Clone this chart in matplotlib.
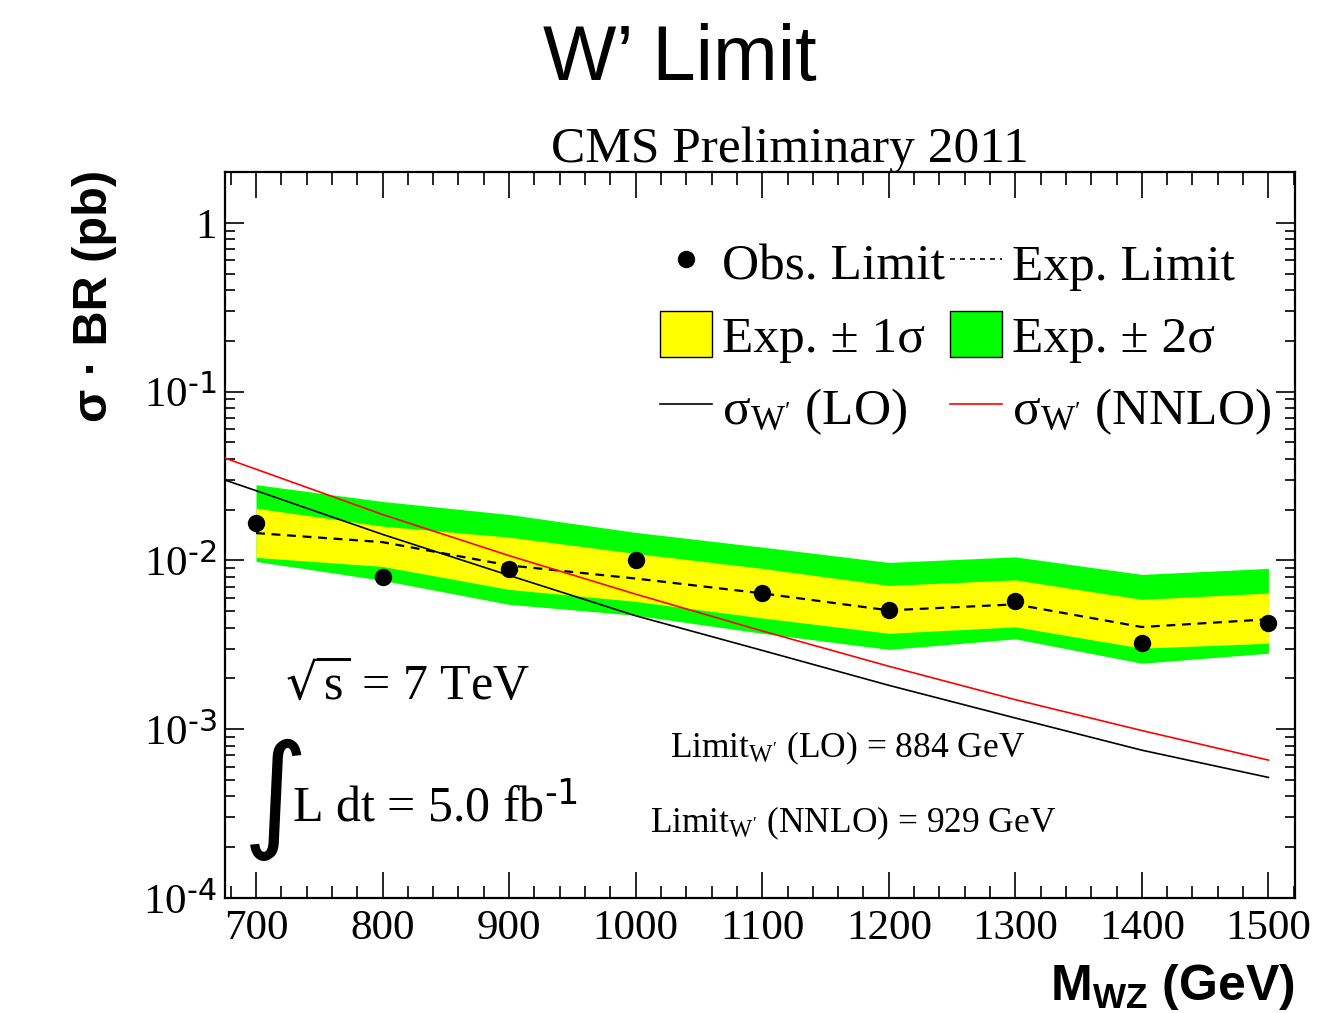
import matplotlib
matplotlib.use('Agg')
import matplotlib.pyplot as plt
import numpy as np
from matplotlib.patches import Patch
from matplotlib.lines import Line2D
from matplotlib.ticker import FixedLocator, MultipleLocator, NullFormatter

# W' mass points (GeV)
mass = [700, 800, 900, 1000, 1100, 1200, 1300, 1400, 1500]
obs = [0.0167, 0.00797, 0.00885, 0.0100, 0.00641, 0.00506, 0.00574, 0.00323, 0.00424]
exp = [0.01452, 0.01283, 0.00934, 0.00781, 0.00638, 0.00506, 0.00549, 0.00403, 0.00448]
exp_1up = [0.0204, 0.01596, 0.01374, 0.01100, 0.00897, 0.00711, 0.00767, 0.00588, 0.00641]
exp_1dn = [0.01042, 0.00921, 0.00673, 0.00572, 0.00456, 0.00370, 0.00404, 0.00302, 0.00323]
exp_2up = [0.0281, 0.02234, 0.01871, 0.01465, 0.01199, 0.00973, 0.01049, 0.00826, 0.00897]
exp_2dn = [0.00986, 0.00762, 0.00549, 0.00473, 0.00370, 0.00297, 0.00343, 0.00246, 0.00282]

# theory cross sections
th_mass = [675, 700, 800, 900, 1000, 1100, 1200, 1300, 1400, 1500]
xs_lo = [0.0300, 0.0259, 0.01426, 0.00815, 0.00470, 0.00293, 0.00182, 0.001165, 0.000751, 0.000518]
xs_nnlo = [0.0405, 0.0347, 0.0187, 0.01067, 0.00631, 0.00382, 0.00236, 0.001496, 0.000982, 0.000656]

serif = 'Liberation Serif'
sans = 'Liberation Sans'
plt.rcParams['font.family'] = [serif, 'DejaVu Serif']
plt.rcParams['mathtext.default'] = 'regular'

W, H = 1319, 1013
fig = plt.figure(figsize=(W / 100, H / 100), dpi=100)
ax = fig.add_axes([225 / W, 1 - 898 / H, (1295 - 225) / W, (898 - 172) / H])

ax.fill_between(mass, exp_2dn, exp_2up, color='#00ff00', lw=0, zorder=1)
ax.fill_between(mass, exp_1dn, exp_1up, color='#ffff00', lw=0, zorder=2)
ax.plot(mass, exp, color='black', ls=(0, (4, 3)), lw=1.6, zorder=3)
ax.plot(th_mass, xs_lo, color='black', lw=1.2, zorder=4)
ax.plot(th_mass, xs_nnlo, color='red', lw=1.2, zorder=4)
ax.plot(mass, obs, 'o', color='black', ms=11.5, zorder=5)

ax.set_yscale('log')
ax.set_xlim(675.5, 1521)
ax.set_ylim(1e-4, 2.0)

# ROOT-like ticks
ax.xaxis.set_major_locator(MultipleLocator(100))
ax.xaxis.set_minor_locator(MultipleLocator(20))
ax.yaxis.set_major_locator(FixedLocator([1e-4, 1e-3, 1e-2, 1e-1, 1]))
minors = [m * 10.0 ** e for e in range(-4, 1) for m in range(2, 10)]
ax.yaxis.set_minor_locator(FixedLocator(minors))
ax.yaxis.set_minor_formatter(NullFormatter())
ax.set_yticklabels(['$10^{\\text{-4}}$', '$10^{\\text{-3}}$', '$10^{\\text{-2}}$',
                    '$10^{\\text{-1}}$', '1'])
ax.tick_params(which='both', direction='in', top=True, right=True, width=1.2)
ax.tick_params(which='major', length=14, labelsize=31)
ax.tick_params(which='minor', length=7)
ax.tick_params(axis='x', which='major', length=19, pad=8)
ax.tick_params(axis='x', which='minor', length=9)
ax.tick_params(axis='y', pad=6)
for s in ax.spines.values():
    s.set_linewidth(1.6)

ax.set_xlabel('M$_{WZ}$ (GeV)', fontfamily=sans, fontweight='bold', fontsize=36, loc='right')
ax.xaxis.set_label_coords(1.0, -0.088)
ax.set_ylabel('σ · BR (pb)', fontfamily=sans, fontweight='bold', fontsize=35, loc='top')
ax.yaxis.set_label_coords(-0.101, 1.003)

fig.text(680 / W, 1 - 59 / H, 'W’ Limit', fontfamily=sans, fontsize=56, ha='center', va='center')
fig.text(790 / W, 1 - 162 / H, 'CMS Preliminary 2011', fontsize=37, ha='center', va='baseline')

handles = [
    Line2D([], [], marker='o', color='black', ls='none', ms=11.5),
    Patch(facecolor='#ffff00', edgecolor='black', lw=1),
    Line2D([], [], color='black', lw=1.2),
    Line2D([], [], color='black', ls=(0, (3, 3)), lw=1.2),
    Patch(facecolor='#00ff00', edgecolor='black', lw=1),
    Line2D([], [], color='red', lw=1.2),
]
labels = ['Obs. Limit', 'Exp. ± 1σ', 'σ$_{W\'}$ (LO)',
          'Exp. Limit', 'Exp. ± 2σ', 'σ$_{W\'}$ (NNLO)']
ax.legend(handles, labels, ncol=2, loc='upper left', bbox_to_anchor=(0.4065, 0.9077),
          frameon=False, fontsize=37, handlelength=1.01, handleheight=1.0,
          handletextpad=0.2, columnspacing=0.10, labelspacing=0.40, borderpad=0,
          borderaxespad=0)

tr = ax.transAxes
ax.text(0.056, 0.293, '$\\sqrt{s}$ = 7 TeV', fontsize=36, va='center', transform=tr)
ax.text(0.016, 0.136, '$\\int$', fontsize=64, va='center', transform=tr)
ax.text(0.063, 0.124, 'L dt = 5.0 fb$^{\\text{-1}}$', fontsize=36, va='center', transform=tr)
ax.text(0.4159, 0.2066, "Limit$_{W'}$ (LO) = 884 GeV", fontsize=25.5, va='center', transform=tr)
ax.text(0.397, 0.103, "Limit$_{W'}$ (NNLO) = 929 GeV", fontsize=25.5, va='center', transform=tr)

fig.savefig('out.png', dpi=100)
